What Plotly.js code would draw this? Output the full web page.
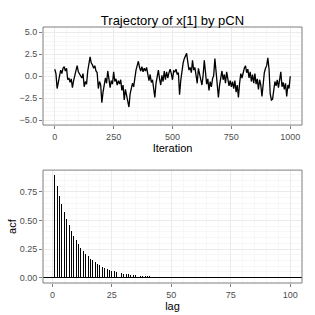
<!DOCTYPE html>
<html>
<head>
<meta charset="utf-8">
<script src="https://cdn.plot.ly/plotly-3.0.1.min.js"></script>
<style>html,body{margin:0;padding:0;background:#fff}#chart{width:315px;height:315px}</style>
</head>
<body>
<div id="chart"></div>
<script>
// Trajectory of x[1], sampled every 5 iterations starting at 0
var trajStart = 0;
var trajStep = 5;
var traj = [
 0.8, 0.3, -1.4, -0.6, 0.4, 0.7, 0.3, 0.9, 1.1, 0.6,
 0.9, -0.4, -0.2, -0.7, -0.3, -1.3, -0.5, 0.2, 0.6, 1.2,
 0.5, 0.2, 0.1, -0.2, 0.3, -1.2, -0.6, -0.9, 0.6, 1.6,
 2.2, 1.5, 1.3, 0.9, 1.2, 0.6, 0.4, -1.4, -0.6, -1.0,
 -3.0, -1.8, -1.0, -0.2, -0.8, 0.6, -0.3, -1.3, -0.5, -0.9,
 0.5, -0.6, -0.3, -1.0, -0.5, -0.9, -0.4, -1.6, -1.0, -2.7,
 -1.5, -2.2, -3.1, -3.5, -2.0, -1.4, -0.8, -1.2, 0.2, 0.7,
 1.2, 1.7, 1.0, 0.6, 1.1, 0.5, 0.9, 0.6, 1.0, 0.3,
 -0.5, 0.2, -0.7, -0.4, -1.3, -2.4, -0.8, -0.2, 0.7, -0.3,
 -1.0, 0.1, -0.6, 0.6, -0.4, 0.5, -0.2, 0.4, 0.8, 0.3,
 -0.4, 0.6, 0.5, 0.8, 0.2, 0.4, -2.1, -0.5, 0.8, 1.5,
 2.0, 2.4, 2.6, 1.6, 0.7, 1.0, 0.4, 1.8, 0.7, 1.0,
 0.3, -0.8, 0.9, 0.2, -0.4, -1.0, 0.1, 1.8, 0.5, -0.9,
 -0.3, -1.6, -0.6, -1.2, -0.3, 0.1, 2.0, 0.3, -0.8, -2.4,
 -1.0, -0.2, 0.6, -0.4, 0.2, -0.8, 0.5, -0.3, -1.1, -0.5,
 -1.2, -0.6, -1.4, -0.5, -1.8, -1.0, -2.4, -0.8, 0.3, -0.2,
 0.6, 0.9, 1.2, 0.4, 0.8, -0.2, 0.5, -0.6, 0.2, -0.8,
 0.3, -0.9, -0.3, -1.5, -0.4, -1.0, -2.3, -0.6, 0.4, 0.9,
 1.2, 2.1, 0.8, -2.0, -2.7, -2.6, -1.5, -0.6, -1.1, -0.4,
 -1.3, -0.5, 0.5, -1.2, -0.7, -1.5, -0.8, -2.3, -1.0, -1.4,
 0.0
];
// Autocorrelation, lags 1..100
var lagStart = 1;
var acf = [
 0.895, 0.800, 0.716, 0.641, 0.573, 0.512, 0.458, 0.409, 0.366, 0.327,
 0.293, 0.262, 0.234, 0.209, 0.187, 0.167, 0.150, 0.134, 0.120, 0.107,
 0.096, 0.086, 0.077, 0.069, 0.061, 0.055, 0.049, 0.044, 0.039, 0.035,
 0.031, 0.028, 0.025, 0.022, 0.020, 0.018, 0.016, 0.014, 0.013, 0.011,
 0.010, 0.009, 0.008, 0.007, 0.006, 0.005, 0.005, 0.004, 0.004, 0.003,
 0.003, 0.003, 0.002, 0.002, 0.002, 0.002, 0.001, 0.001, 0.001, 0.001,
 0.001, 0.001, 0.001, 0.000, 0.000, 0.000, 0.000, 0.000, 0.000, 0.000,
 0.000, 0.000, 0.000, 0.000, 0.000, 0.000, 0.000, 0.000, 0.000, 0.000,
 0.000, 0.000, 0.000, 0.000, 0.000, 0.000, 0.000, 0.000, 0.000, 0.000,
 0.000, 0.000, 0.000, 0.000, 0.000, 0.000, 0.000, 0.000, 0.000, 0.000
];
var topTickVals = [-5, -2.5, 0, 2.5, 5];
var topTickText = ["\u22125.0", "\u22122.5", "0.0", "2.5", "5.0"];
var iterTicks = [0, 250, 500, 750, 1000];
var acfTicks = [0, 0.25, 0.5, 0.75];
var acfTickText = ["0.00", "0.25", "0.50", "0.75"];
var lagTicks = [0, 25, 50, 75, 100];

var font = "Liberation Sans, Arial, sans-serif";
var tickFont = {family: font, size: 9, color: "#4d4d4d"};
var axisBase = {
  showline: false, mirror: false, ticks: "outside", ticklen: 3, tickwidth: 1,
  tickcolor: "#7f7f7f", gridcolor: "#ebebeb", gridwidth: 1, zeroline: false,
  tickfont: tickFont,
  minor: {showgrid: true, gridcolor: "#f7f7f7", gridwidth: 1}
};
function ax(o){ return Object.assign({}, axisBase, o); }

var data = [
  {type: "scatter", mode: "lines", x0: trajStart, dx: trajStep, y: traj,
   line: {color: "#000", width: 1.3}, xaxis: "x", yaxis: "y", hoverinfo: "skip"},
  {type: "bar", x0: lagStart, dx: 1, y: acf, width: 0.4,
   marker: {color: "#000", line: {width: 0}}, xaxis: "x2", yaxis: "y2", hoverinfo: "skip"}
];

var layout = {
  width: 315, height: 315,
  margin: {l: 43, r: 13, t: 27, b: 32},
  paper_bgcolor: "#fff", plot_bgcolor: "#fff",
  showlegend: false,
  title: {text: "Trajectory of x[1] by pCN", font: {family: font, size: 13, color: "#000"},
          x: 0.5, xref: "paper", y: 0.935, yref: "container", yanchor: "middle"},
  xaxis: ax({domain: [0, 1], anchor: "y", range: [-50, 1050], tickvals: iterTicks,
    ticktext: iterTicks.map(String),
    title: {text: "Iteration", font: {family: font, size: 11, color: "#000"}, standoff: 2}}),
  yaxis: ax({domain: [0.617, 1], anchor: "x", range: [-5.55, 5.6], tickvals: topTickVals,
    ticktext: topTickText}),
  xaxis2: ax({domain: [0, 1], anchor: "y2", range: [-3.95, 104.95], tickvals: lagTicks,
    ticktext: lagTicks.map(String),
    title: {text: "lag", font: {family: font, size: 11, color: "#000"}, standoff: 2}}),
  yaxis2: ax({domain: [0, 0.441], anchor: "x2", range: [-0.047, 0.94], tickvals: acfTicks,
    ticktext: acfTickText, zeroline: true, zerolinecolor: "#000", zerolinewidth: 1,
    title: {text: "acf", font: {family: font, size: 11, color: "#000"}, standoff: 0}}),
  shapes: [
    {type: "rect", xref: "x domain", yref: "y domain", x0: 0, x1: 1, y0: 0, y1: 1,
     line: {color: "#7f7f7f", width: 1}, fillcolor: "rgba(0,0,0,0)", layer: "above"},
    {type: "rect", xref: "x2 domain", yref: "y2 domain", x0: 0, x1: 1, y0: 0, y1: 1,
     line: {color: "#7f7f7f", width: 1}, fillcolor: "rgba(0,0,0,0)", layer: "above"}
  ],
  bargap: 0
};
Plotly.newPlot("chart", data, layout, {staticPlot: true, displayModeBar: false});
</script>
</body>
</html>
